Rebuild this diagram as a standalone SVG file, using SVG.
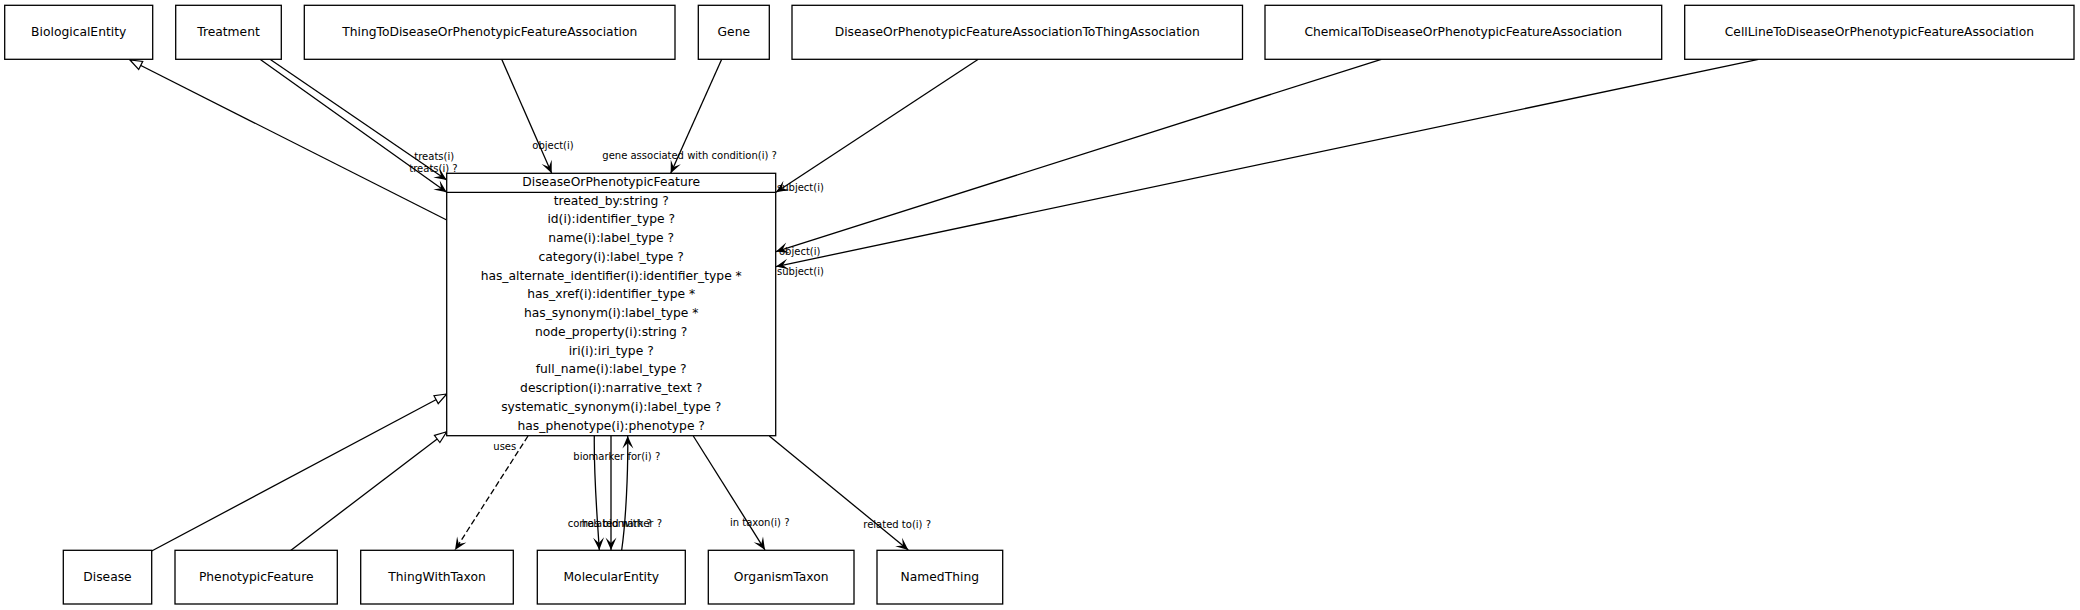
<svg xmlns="http://www.w3.org/2000/svg" width="2080" height="610" viewBox="0 0 2080 610">
<style>
.box{fill:#fff;stroke:#000;stroke-width:1.3}
.nl{font-family:"DejaVu Sans",sans-serif;font-size:12.3px;fill:#000;text-anchor:middle}
.el{font-family:"DejaVu Sans",sans-serif;font-size:10px;fill:#000}
.e{fill:none;stroke:#000;stroke-width:1.3}
.v{marker-end:url(#vee)}
.g{marker-end:url(#tri)}
.d{stroke-dasharray:6,3}
</style>
<defs>
<marker id="vee" viewBox="-14 -7 15 14" refX="0" refY="0" markerWidth="15" markerHeight="14" markerUnits="userSpaceOnUse" orient="auto"><path d="M0,0 L-12.5,-5.5 L-7,0 L-12.5,5.5 Z" fill="#000"/></marker>
<marker id="tri" viewBox="-14 -7 15 14" refX="0" refY="0" markerWidth="15" markerHeight="14" markerUnits="userSpaceOnUse" orient="auto"><path d="M0,0 L-12,-4.5 L-12,4.5 Z" fill="#fff" stroke="#000" stroke-width="1.2"/></marker>
</defs>
<rect width="2080" height="610" fill="#fff"/>
<g id="connectors">
<path class="e g" d="M446.7,220 L130,60"/>
<path class="e v" d="M270,59.3 L446.7,180"/>
<path class="e v" d="M260,59.3 L446.7,192.3"/>
<path class="e v" d="M501.7,59.3 L551.7,173.3"/>
<path class="e v" d="M721.7,59.3 L670.7,173.3"/>
<path class="e v" d="M978.3,59.3 L776,192.3"/>
<path class="e v" d="M1381.3,59.3 L776,251.6"/>
<path class="e v" d="M1758.4,59.3 L776,266.6"/>
<path class="e g" d="M151.7,551 L446.7,394"/>
<path class="e g" d="M290,551 L446.7,431.7"/>
<path class="e v d" d="M528,436 L455,550"/>
<path class="e v" d="M594.3,436 C593.8,480 597.5,520 599.3,550"/>
<path class="e v" d="M611,436 L611,550"/>
<path class="e v" d="M621.7,550 C626,520 628.2,470 627.7,436"/>
<path class="e v" d="M693.3,436 L765,550"/>
<path class="e v" d="M769.3,436 L908.3,550"/>
<text class="el" x="414.3" y="160">treats(i)</text>
<text class="el" x="409.3" y="171.8">treats(i) ?</text>
<text class="el" x="532.3" y="149">object(i)</text>
<text class="el" x="602.3" y="158.5">gene associated with condition(i) ?</text>
<text class="el" x="777" y="190.5">subject(i)</text>
<text class="el" x="779" y="255">object(i)</text>
<text class="el" x="777" y="275">subject(i)</text>
<text class="el" x="493.3" y="450">uses</text>
<text class="el" x="573.3" y="459.5">biomarker for(i) ?</text>
<text class="el" x="567.7" y="527">correlated with ?</text>
<text class="el" x="581.7" y="527">has biomarker ?</text>
<text class="el" x="730" y="526">in taxon(i) ?</text>
<text class="el" x="863.3" y="528">related to(i) ?</text>
</g>
<g id="BiologicalEntity"><rect class="box" x="4.7" y="5.3" width="148" height="54"/><text class="nl" x="78.7" y="36.3">BiologicalEntity</text></g>
<g id="Treatment"><rect class="box" x="175.7" y="5.3" width="105.6" height="54"/><text class="nl" x="228.5" y="36.3">Treatment</text></g>
<g id="ThingToDiseaseOrPhenotypicFeatureAssociation"><rect class="box" x="304.3" y="5.3" width="370.7" height="54"/><text class="nl" x="489.7" y="36.3">ThingToDiseaseOrPhenotypicFeatureAssociation</text></g>
<g id="Gene"><rect class="box" x="698.3" y="5.3" width="71" height="54"/><text class="nl" x="733.8" y="36.3">Gene</text></g>
<g id="DiseaseOrPhenotypicFeatureAssociationToThingAssociation"><rect class="box" x="792" y="5.3" width="450.5" height="54"/><text class="nl" x="1017.2" y="36.3">DiseaseOrPhenotypicFeatureAssociationToThingAssociation</text></g>
<g id="ChemicalToDiseaseOrPhenotypicFeatureAssociation"><rect class="box" x="1265" y="5.3" width="396.7" height="54"/><text class="nl" x="1463.3" y="36.3">ChemicalToDiseaseOrPhenotypicFeatureAssociation</text></g>
<g id="CellLineToDiseaseOrPhenotypicFeatureAssociation"><rect class="box" x="1684.7" y="5.3" width="389.3" height="54"/><text class="nl" x="1879.4" y="36.3">CellLineToDiseaseOrPhenotypicFeatureAssociation</text></g>
<g id="DiseaseOrPhenotypicFeature">
<rect class="box" x="446.7" y="173.3" width="329" height="262.4"/>
<line x1="446.7" y1="192.3" x2="775.7" y2="192.3" stroke="#000" stroke-width="1.3"/>
<text class="nl" x="611.2" y="186">DiseaseOrPhenotypicFeature</text>
<text class="nl" x="611.2" y="204.5">treated_by:string ?</text>
<text class="nl" x="611.2" y="223.25">id(i):identifier_type ?</text>
<text class="nl" x="611.2" y="242">name(i):label_type ?</text>
<text class="nl" x="611.2" y="260.75">category(i):label_type ?</text>
<text class="nl" x="611.2" y="279.5">has_alternate_identifier(i):identifier_type *</text>
<text class="nl" x="611.2" y="298.25">has_xref(i):identifier_type *</text>
<text class="nl" x="611.2" y="317">has_synonym(i):label_type *</text>
<text class="nl" x="611.2" y="335.75">node_property(i):string ?</text>
<text class="nl" x="611.2" y="354.5">iri(i):iri_type ?</text>
<text class="nl" x="611.2" y="373.25">full_name(i):label_type ?</text>
<text class="nl" x="611.2" y="392">description(i):narrative_text ?</text>
<text class="nl" x="611.2" y="410.75">systematic_synonym(i):label_type ?</text>
<text class="nl" x="611.2" y="429.5">has_phenotype(i):phenotype ?</text>
</g>
<g id="Disease"><rect class="box" x="63.3" y="550.3" width="88.4" height="53.7"/><text class="nl" x="107.5" y="581">Disease</text></g>
<g id="PhenotypicFeature"><rect class="box" x="175" y="550.3" width="162.3" height="53.7"/><text class="nl" x="256.2" y="581">PhenotypicFeature</text></g>
<g id="ThingWithTaxon"><rect class="box" x="360.7" y="550.3" width="152.6" height="53.7"/><text class="nl" x="437" y="581">ThingWithTaxon</text></g>
<g id="MolecularEntity"><rect class="box" x="537.3" y="550.3" width="148" height="53.7"/><text class="nl" x="611.3" y="581">MolecularEntity</text></g>
<g id="OrganismTaxon"><rect class="box" x="708.3" y="550.3" width="145.7" height="53.7"/><text class="nl" x="781.2" y="581">OrganismTaxon</text></g>
<g id="NamedThing"><rect class="box" x="877" y="550.3" width="125.7" height="53.7"/><text class="nl" x="939.8" y="581">NamedThing</text></g>
</svg>
